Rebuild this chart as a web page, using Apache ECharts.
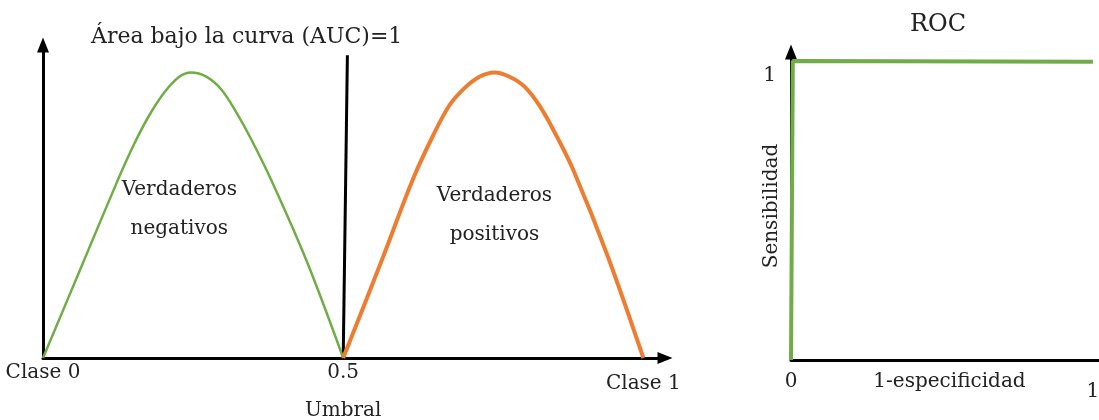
<!DOCTYPE html>
<html>
<head>
<meta charset="utf-8">
<script src="https://cdn.jsdelivr.net/npm/echarts@6/dist/echarts.min.js"></script>
<style>
  html, body { margin: 0; padding: 0; background: #fff; }
  #chart { width: 1099px; height: 420px; }
</style>
</head>
<body>
<div id="chart"></div>
<script>
// Left panel: class distributions split by the threshold
const negX = [0, 0.062, 0.123, 0.152, 0.177, 0.202, 0.227, 0.247, 0.272, 0.297, 0.322, 0.347, 0.383, 0.44, 0.5];
const negY = [0, 0.31, 0.615, 0.75, 0.85, 0.93, 0.985, 1.0, 0.985, 0.94, 0.86, 0.765, 0.61, 0.335, 0];
const posX = [0.5, 0.562, 0.617, 0.65, 0.677, 0.702, 0.727, 0.752, 0.777, 0.802, 0.828, 0.856, 0.884, 0.94, 1.0];
const posY = [0, 0.33, 0.63, 0.78, 0.885, 0.945, 0.985, 1.0, 0.985, 0.95, 0.88, 0.775, 0.655, 0.36, 0];
const thresholdX = [0.5, 0.507];
const thresholdY = [0, 1.06];
const leftTickValues = [0, 0.5];
const leftTickLabels = ['Clase 0', '0.5'];
const leftExtraValues = [0.5, 1.0];
const leftExtraLabels = ['Umbral', 'Clase 1'];
const regionNames = ['Verdaderos\nnegativos', 'Verdaderos\npositivos'];
const regionX = [0.227, 0.752];
const regionY = [0.52, 0.50];

// Right panel: ROC curve
const rocFpr = [0, 0.006, 1.0];
const rocTpr = [0, 1.0, 0.997];
const rocXTickValues = [0, 1];
const rocXTickLabels = ['0', '1'];
const rocYTickValues = [1];
const rocYTickLabels = ['1'];

const FONT = 'DejaVu Serif';
const TXT = '#222';
const GREEN = '#70ad47';
const ORANGE = '#ed7d31';

const chart = echarts.init(document.getElementById('chart'));

const zip = (xs, ys) => xs.map((x, i) => [x, ys[i]]);
const axisArrow = { show: true, symbol: ['none', 'triangle'], symbolSize: [12, 15], lineStyle: { color: '#000', width: 3 } };

chart.setOption({
  animation: false,
  title: [
    { text: 'Área bajo la curva (AUC)=1', left: 86, top: 21, textStyle: { fontFamily: FONT, fontSize: 22, fontWeight: 'normal', color: TXT } },
    { text: 'ROC', left: 905, top: 8, textStyle: { fontFamily: FONT, fontSize: 24, fontWeight: 'normal', color: TXT } },
  ],
  grid: [
    { left: 43, top: 45, width: 622, height: 313, outerBoundsMode: 'none' },
    { left: 791, top: 52, width: 317, height: 308, outerBoundsMode: 'none' },
  ],
  xAxis: [
    {
      gridIndex: 0, type: 'value', min: 0, max: 1.036,
      axisLine: axisArrow, axisTick: { show: false }, splitLine: { show: false },
      axisLabel: {
        customValues: leftTickValues, margin: 5,
        formatter: (v) => leftTickLabels[leftTickValues.indexOf(v)],
        fontFamily: FONT, fontSize: 20, color: TXT,
      },
    },
    {
      gridIndex: 0, type: 'value', min: 0, max: 1.036, position: 'bottom',
      axisLine: { show: false }, axisTick: { show: false }, splitLine: { show: false },
      axisLabel: {
        customValues: leftExtraValues, margin: 16,
        formatter: (v) => {
          const s = leftExtraLabels[leftExtraValues.indexOf(v)];
          return v === 0.5 ? '{lo|' + s + '}' : s;
        },
        rich: { lo: { padding: [27, 0, 0, 0], fontFamily: FONT, fontSize: 20, color: TXT } },
        fontFamily: FONT, fontSize: 20, color: TXT,
      },
    },
    {
      gridIndex: 1, type: 'value', min: 0, max: 1.05,
      axisLine: axisArrow, axisTick: { show: false }, splitLine: { show: false },
      name: '1-especificidad', nameLocation: 'middle', nameGap: 12, nameMoveOverlap: false,
      nameTextStyle: { fontFamily: FONT, fontSize: 20, color: TXT },
      axisLabel: {
        customValues: rocXTickValues, margin: 12,
        formatter: (v) => {
          const s = rocXTickLabels[rocXTickValues.indexOf(v)];
          return v === 1 ? '{lo|' + s + '}' : s;
        },
        rich: { lo: { padding: [10, 0, 0, 0], fontFamily: FONT, fontSize: 20, color: TXT } },
        fontFamily: FONT, fontSize: 20, color: TXT,
      },
    },
  ],
  yAxis: [
    {
      gridIndex: 0, type: 'value', min: 0, max: 1.096,
      axisLine: axisArrow, axisTick: { show: false }, splitLine: { show: false },
      axisLabel: { show: false },
    },
    {
      gridIndex: 1, type: 'value', min: 0, max: 1.03,
      axisLine: axisArrow, axisTick: { show: false }, splitLine: { show: false },
      name: 'Sensibilidad', nameLocation: 'middle', nameGap: 9, nameRotate: 90, nameMoveOverlap: false,
      nameTextStyle: { fontFamily: FONT, fontSize: 20, color: TXT },
      axisLabel: {
        customValues: rocYTickValues, margin: 15, verticalAlign: 'top', padding: [5, 0, 0, 0],
        formatter: (v) => rocYTickLabels[rocYTickValues.indexOf(v)],
        fontFamily: FONT, fontSize: 20, color: TXT,
      },
    },
  ],
  series: [
    {
      type: 'line', xAxisIndex: 0, yAxisIndex: 0, data: zip(negX, negY),
      smooth: 0.35, showSymbol: false, lineStyle: { color: GREEN, width: 2.5 }, z: 3,
    },
    {
      type: 'line', xAxisIndex: 0, yAxisIndex: 0, data: zip(posX, posY),
      smooth: 0.35, showSymbol: false, lineStyle: { color: ORANGE, width: 4 }, z: 3,
    },
    {
      type: 'line', xAxisIndex: 0, yAxisIndex: 0, data: zip(thresholdX, thresholdY),
      showSymbol: false, lineStyle: { color: '#000', width: 3 }, z: 2,
    },
    {
      type: 'scatter', xAxisIndex: 0, yAxisIndex: 0, symbolSize: 0, silent: true,
      itemStyle: { opacity: 1 },
      data: regionNames.map((n, i) => ({ name: n, value: [regionX[i], regionY[i]] })),
      label: {
        show: true, position: 'inside', formatter: (p) => p.name,
        fontFamily: FONT, fontSize: 20, lineHeight: 39, color: TXT, align: 'center',
      },
    },
    {
      type: 'line', xAxisIndex: 2, yAxisIndex: 1, data: zip(rocFpr, rocTpr),
      showSymbol: false, lineStyle: { color: GREEN, width: 4 }, z: 3,
    },
  ],
});
</script>
</body>
</html>
